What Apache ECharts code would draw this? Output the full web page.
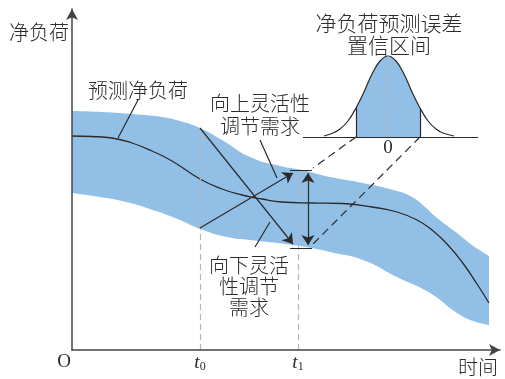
<!DOCTYPE html>
<html>
<head>
<meta charset="utf-8">
<script src="https://cdn.jsdelivr.net/npm/echarts@6/dist/echarts.min.js"></script>
<style>
html, body { margin: 0; padding: 0; background: #fff; }
#main { width: 505px; height: 379px; }
</style>
</head>
<body>
<div id="main"></div>
<script>
// 预测净负荷及其置信带 (示意数据, 横轴时间, 纵轴净负荷)
const upperX = [0, 30, 60, 90, 108, 128, 150, 178, 208, 230, 258, 291, 325, 340, 352, 365, 385, 400, 417]
const upperY = [239, 238, 236, 233, 229, 222, 210, 193, 184, 180, 173, 167, 159, 153, 144, 132, 117, 105, 94]
const lowerX = [0, 28, 50, 78, 108, 128, 155, 178, 221, 245, 258, 291, 325, 358, 385, 401, 417]
const lowerY = [157, 153, 149, 141, 130, 121, 113, 110, 105, 101, 98, 90, 73, 57, 37, 29, 25]

const forecastX = [0, 20, 40, 60, 80, 100, 128, 150, 170, 190, 210, 240, 270, 300, 325, 345, 360, 375, 390, 405, 417]
const forecastY = [214, 213.5, 212, 207, 199, 189, 171, 161, 155, 151, 148, 147, 146.5, 143, 138, 130, 120, 106, 88, 66, 47]

// 误差分布曲线
const bellX = [252, 261, 268, 276, 284, 292, 300, 308, 316, 324, 332, 340, 348, 356, 364, 371, 382]
const bellY = [214, 217, 221, 229, 242, 258, 276, 289, 294, 289, 276, 258, 242, 229, 221, 217, 214]
const shadeX = [284, 292, 300, 308, 316, 324, 332, 340, 348]
const shadeY = [242, 258, 276, 289, 294, 289, 276, 258, 242]
const bellBase = 213

const t0 = 128
const t1 = 226

const grayDashed = [
	[[t0, 0], [t0, 222]],
	[[t1, 0], [t1, 180]],
	[[316, 213], [316, 294]]
]
const darkDashed = [
	[[284, 213], [241, 182]],
	[[348, 213], [238, 103]]
]
const solidSegs = [
	[[66, 250], [46, 212]],
	[[188, 210], [205, 172]],
	[[198, 128], [183, 103]],
	[[218, 180], [240, 180]],
	[[218, 102], [240, 102]],
	[[231, bellBase], [406, bellBase]],
	[[284, bellBase], [284, 242]],
	[[348, bellBase], [348, 242]]
]
const arrowSegs = [
	[[t0, 222], [221, 106]],
	[[t0, 122], [221, 177]]
]
const doubleArrow = [
	[[236, 105], [236, 177]]
]

const blue = '#92bfe6'
const ink = '#2b2b2b'
const cjk = '"Noto Sans CJK SC", sans-serif'

const toPairs = (xs, ys) => xs.map((x, i) => [x, ys[i]])
const segData = (segs) => segs.map((c) => ({ coords: c }))

var myChart = echarts.init(document.getElementById('main'))

var option = {
	animation: false,
	grid: { left: 72, right: 5, top: 9, bottom: 29 },
	xAxis: {
		type: 'value', min: 0, max: 428, z: 10,
		axisLine: { lineStyle: { color: '#444', width: 1.5 }, symbol: ['none', 'arrow'], symbolSize: [9, 11] },
		axisTick: { show: false }, axisLabel: { show: false }, splitLine: { show: false }
	},
	yAxis: {
		type: 'value', min: 0, max: 341, z: 10,
		axisLine: { show: true, lineStyle: { color: '#444', width: 1.5 }, symbol: ['none', 'arrow'], symbolSize: [9, 11] },
		axisTick: { show: false }, axisLabel: { show: false }, splitLine: { show: false }
	},
	series: [
		{
			type: 'line', data: toPairs(upperX, upperY), smooth: 0.5, symbol: 'none', z: 1,
			lineStyle: { width: 0 }, areaStyle: { color: blue, opacity: 1 }
		},
		{
			type: 'line', data: toPairs(lowerX, lowerY), smooth: 0.5, symbol: 'none', z: 1,
			lineStyle: { width: 0 }, areaStyle: { color: '#fff', opacity: 1 }
		},
		{
			type: 'line', data: toPairs(shadeX, shadeY), smooth: 0.4, symbol: 'none', z: 2,
			lineStyle: { width: 0 }, areaStyle: { color: blue, opacity: 1, origin: bellBase }
		},
		{
			type: 'line', data: toPairs(forecastX, forecastY), smooth: 0.5, symbol: 'none', z: 3,
			lineStyle: { color: ink, width: 1.3 }
		},
		{
			type: 'line', data: toPairs(bellX, bellY), smooth: 0.4, symbol: 'none', z: 3,
			lineStyle: { color: ink, width: 1.2 }
		},
		{
			type: 'lines', coordinateSystem: 'cartesian2d', z: 4, symbol: 'none',
			lineStyle: { color: '#b5b5b5', width: 1.2, type: [6, 4], opacity: 1 },
			data: segData(grayDashed)
		},
		{
			type: 'lines', coordinateSystem: 'cartesian2d', z: 4, symbol: 'none',
			lineStyle: { color: ink, width: 1.2, type: [8, 5], opacity: 1 },
			data: segData(darkDashed)
		},
		{
			type: 'lines', coordinateSystem: 'cartesian2d', z: 4, symbol: 'none',
			lineStyle: { color: ink, width: 1.2, opacity: 1 },
			data: segData(solidSegs)
		},
		{
			type: 'lines', coordinateSystem: 'cartesian2d', z: 5, symbol: ['none', 'arrow'], symbolSize: 10,
			lineStyle: { color: ink, width: 1.2, opacity: 1 },
			data: segData(arrowSegs)
		},
		{
			type: 'lines', coordinateSystem: 'cartesian2d', z: 5, symbol: ['arrow', 'arrow'], symbolSize: 10,
			lineStyle: { color: ink, width: 1.2, opacity: 1 },
			data: segData(doubleArrow)
		}
	],
	graphic: [
		{ type: 'text', z: 20, style: { text: '净负荷', x: 39, y: 32, font: '300 20px ' + cjk, fill: ink, textAlign: 'center', textVerticalAlign: 'middle' } },
		{ type: 'text', z: 20, style: { text: '预测净负荷', x: 138, y: 90, font: '300 20px ' + cjk, fill: ink, textAlign: 'center', textVerticalAlign: 'middle' } },
		{ type: 'text', z: 20, style: { text: '向上灵活性\n调节需求', x: 260, y: 115, font: '300 20px ' + cjk, lineHeight: 23, fill: ink, textAlign: 'center', textVerticalAlign: 'middle' } },
		{ type: 'text', z: 20, style: { text: '向下灵活\n性调节\n需求', x: 249, y: 286, font: '300 20px ' + cjk, lineHeight: 21, fill: ink, textAlign: 'center', textVerticalAlign: 'middle' } },
		{ type: 'text', z: 20, style: { text: '净负荷预测误差\n置信区间', x: 389, y: 34, font: '300 21px ' + cjk, lineHeight: 22, fill: ink, textAlign: 'center', textVerticalAlign: 'middle' } },
		{ type: 'text', z: 20, style: { text: '0', x: 388, y: 148, font: '19px "Liberation Serif", serif', fill: ink, textAlign: 'center', textVerticalAlign: 'middle' } },
		{ type: 'text', z: 20, style: { text: 'O', x: 64, y: 362, font: '19px "Liberation Serif", serif', fill: ink, textAlign: 'center', textVerticalAlign: 'middle' } },
		{ type: 'text', z: 20, style: { text: '{t|t}{s|0}', x: 200, y: 363, textAlign: 'center', textVerticalAlign: 'middle',
			rich: { t: { font: 'italic 19px "Liberation Serif", serif', fill: ink }, s: { font: '12px "Liberation Serif", serif', fill: ink, padding: [8, 0, 0, 0] } } } },
		{ type: 'text', z: 20, style: { text: '{t|t}{s|1}', x: 298, y: 363, textAlign: 'center', textVerticalAlign: 'middle',
			rich: { t: { font: 'italic 19px "Liberation Serif", serif', fill: ink }, s: { font: '12px "Liberation Serif", serif', fill: ink, padding: [8, 0, 0, 0] } } } },
		{ type: 'text', z: 20, style: { text: '时间', x: 478, y: 367, font: '300 20px ' + cjk, fill: ink, textAlign: 'center', textVerticalAlign: 'middle' } }
	]
}
myChart.setOption(option)
</script>
</body>
</html>
